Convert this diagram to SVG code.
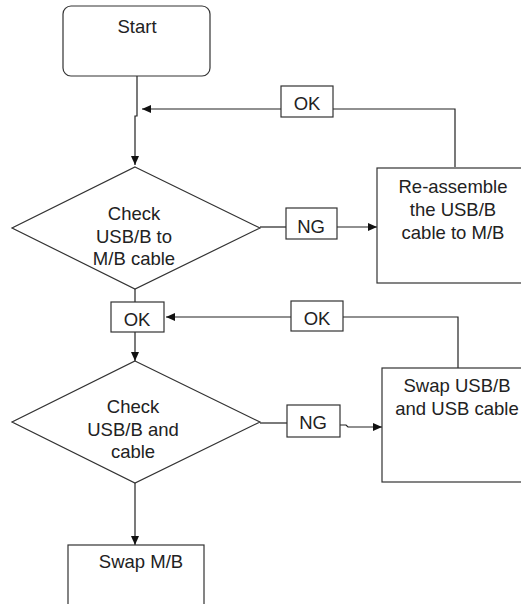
<svg xmlns="http://www.w3.org/2000/svg" width="521" height="604" viewBox="0 0 521 604">
<defs>
<style>
.shape{fill:#fff;stroke:#333;stroke-width:1.2}
.line{fill:none;stroke:#222;stroke-width:1.2}
.t{font-family:"Liberation Sans",Arial,sans-serif;font-size:18.5px;fill:#222;text-anchor:middle}
</style>
<marker id="arr" markerUnits="userSpaceOnUse" markerWidth="10" markerHeight="10" refX="9" refY="4" orient="auto">
<path d="M0,0 L9,4 L0,8 z" fill="#111"/>
</marker>
</defs>
<rect width="521" height="604" fill="#fff"/>
<g id="connectors">
<path class="line" d="M137,76 V116 H135 V165" marker-end="url(#arr)"/>
<path class="line" d="M455,167 V109 H333"/>
<path class="line" d="M281,109 H142" marker-end="url(#arr)"/>
<path class="line" d="M260,227 H286"/>
<path class="line" d="M337,227 H377" marker-end="url(#arr)"/>
<path class="line" d="M135,289 V302"/>
<path class="line" d="M135,332 V361" marker-end="url(#arr)"/>
<path class="line" d="M458,368 V317 H343"/>
<path class="line" d="M291,317 H166" marker-end="url(#arr)"/>
<path class="line" d="M260,423 H287"/>
<path class="line" d="M340,425 H346 L348,427 H382" marker-end="url(#arr)"/>
<path class="line" d="M135,483 V545" marker-end="url(#arr)"/>
</g>
<g id="start">
<rect class="shape" x="63" y="6" width="147" height="70" rx="8"/>
<text class="t" x="137" y="33">Start</text>
</g>
<g id="check1">
<polygon class="shape" points="135,167 260,228 135,289 12,228"/>
<text class="t" x="134" y="220">Check</text>
<text class="t" x="134" y="243">USB/B to</text>
<text class="t" x="134" y="265">M/B cable</text>
</g>
<g id="ok1">
<rect class="shape" x="281" y="86" width="52" height="31"/>
<text class="t" x="307" y="110">OK</text>
</g>
<g id="ng1">
<rect class="shape" x="286" y="208" width="51" height="31"/>
<text class="t" x="311" y="233">NG</text>
</g>
<g id="reassemble">
<rect class="shape" x="377" y="168" width="160" height="115"/>
<text class="t" x="453" y="193">Re-assemble</text>
<text class="t" x="453" y="216">the USB/B</text>
<text class="t" x="453" y="239">cable to M/B</text>
</g>
<g id="ok2">
<rect class="shape" x="111" y="302" width="53" height="30"/>
<text class="t" x="137" y="326">OK</text>
</g>
<g id="ok3">
<rect class="shape" x="291" y="301" width="52" height="30"/>
<text class="t" x="317" y="325">OK</text>
</g>
<g id="check2">
<polygon class="shape" points="135,361 260,422 135,483 12,422"/>
<text class="t" x="133" y="413">Check</text>
<text class="t" x="133" y="436">USB/B and</text>
<text class="t" x="133" y="458">cable</text>
</g>
<g id="ng2">
<rect class="shape" x="287" y="405" width="53" height="32"/>
<text class="t" x="313" y="429">NG</text>
</g>
<g id="swapusb">
<rect class="shape" x="382" y="368" width="160" height="114"/>
<text class="t" x="457" y="392">Swap USB/B</text>
<text class="t" x="457" y="415">and USB cable</text>
</g>
<g id="swapmb">
<rect class="shape" x="68" y="545" width="136" height="80"/>
<text class="t" x="141" y="568">Swap M/B</text>
</g>
</svg>
